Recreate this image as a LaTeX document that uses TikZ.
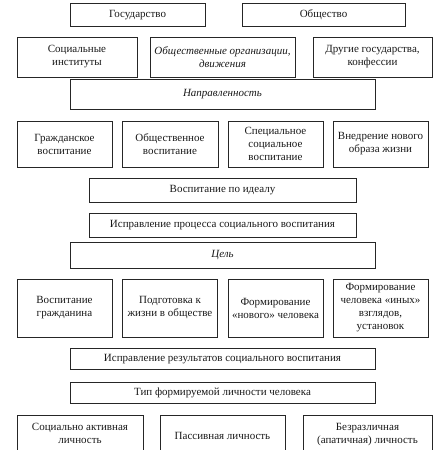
\documentclass[tikz,border=0pt]{standalone}
\usepackage{fontspec}
\setmainfont{Liberation Serif}
\begin{document}
\begin{tikzpicture}[x=1pt,y=-1pt,
  bx/.style={draw=black!85,line width=0.9pt,inner sep=1pt,align=center,
    font=\fontsize{11}{13}\selectfont,text=black!90},
  one/.style={bx,text height=8,text depth=2.6}]
\useasboundingbox (0,0) rectangle (440,450);
\clip (0,0) rectangle (440,450);
% row 1
\node[one,minimum width=135,minimum height=23] (gos) at (137.5,14.5) {Государство};
\node[one,minimum width=163,minimum height=23] (obs) at (323.5,14.5) {Общество};
% row 2
\node[bx,minimum width=120,minimum height=40] (soc) at (77,57) {Социальные\\институты};
\node[bx,minimum width=145,minimum height=40] (org) at (222.5,57) {\itshape Общественные организации,\\\itshape движения};
\node[bx,minimum width=119,minimum height=40] (dru) at (372.5,57) {Другие государства,\\конфессии};
% row 3
\node[one,minimum width=305,minimum height=30] (nap) at (222.5,94) {\itshape Направленность};
% row 4
\node[bx,minimum width=95,minimum height=46] (gra) at (64.5,144) {Гражданское\\воспитание};
\node[bx,minimum width=96,minimum height=46] (obv) at (170,144) {Общественное\\воспитание};
\node[bx,minimum width=95,minimum height=46] (spe) at (275.5,144) {Специальное\\социальное\\воспитание};
\node[bx,minimum width=95,minimum height=46] (vne) at (380.5,144) {Внедрение нового\\образа жизни};
% middle bars
\node[one,minimum width=267,minimum height=24] (ide) at (222.5,190) {Воспитание по идеалу};
\node[one,minimum width=267,minimum height=24] (isp) at (222.5,225) {Исправление процесса социального воспитания};
\node[one,minimum width=305,minimum height=26] (cel) at (222.5,255) {\itshape Цель};
% goals
\node[bx,minimum width=95,minimum height=58] (vgr) at (64.5,308) {Воспитание\\гражданина};
\node[bx,minimum width=95,minimum height=58] (pod) at (170,308) {Подготовка к\\жизни в обществе};
\node[bx,minimum width=95,minimum height=58] (fno) at (275.5,308) {Формирование\\«нового» человека};
\node[bx,minimum width=95,minimum height=58] (fin) at (380.5,308) {Формирование\\человека «иных»\\взглядов,\\установок};
% lower bars
\node[one,minimum width=305,minimum height=21] (res) at (222.5,358.5) {Исправление результатов социального воспитания};
\node[one,minimum width=305,minimum height=21] (tip) at (222.5,392.5) {Тип формируемой личности человека};
% bottom row (cut by picture edge)
\node[bx,minimum width=126,minimum height=44,text depth=7] (akt) at (80,437) {Социально активная\\личность};
\node[one,minimum width=125,minimum height=44] (pas) at (222.5,437) {Пассивная личность};
\node[bx,minimum width=129,minimum height=44,text depth=7] (bez) at (367.5,437) {Безразличная\\(апатичная) личность};
\end{tikzpicture}
\end{document}
